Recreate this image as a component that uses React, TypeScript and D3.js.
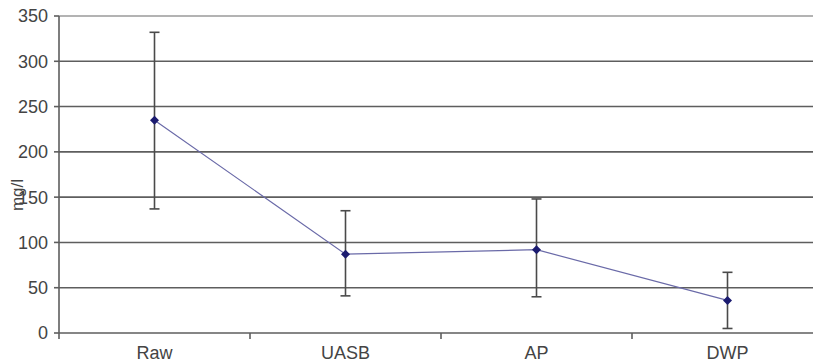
import React from "react";
import * as d3 from "d3";

const categories = ["Raw", "UASB", "AP", "DWP"];
const means = [235, 87, 92, 36];
const upper = [332, 135, 148, 67];
const lower = [137, 41, 40, 5];
const yTicks = [0, 50, 100, 150, 200, 250, 300, 350];
const yLabel = "mg/l";

export default function App() {
  const W = 813, H = 364;
  const left = 59, right = 823, top = 16, bottom = 333;
  const x = d3.scaleBand<string>().domain(categories).range([left, right]).padding(0);
  const y = d3.scaleLinear().domain([0, 350]).range([bottom, top]);
  const cx = (c: string) => (x(c) as number) + x.bandwidth() / 2;
  const line = d3.line<number>().x((_, i) => cx(categories[i])).y((d) => y(d));
  const font = "Arial, 'Liberation Sans', sans-serif";
  const sep = categories.slice(1).map((c) => x(c) as number);

  return (
    <svg width={W} height={H} style={{ position: "absolute", left: 0, top: 0, background: "#fff" }}>
      {yTicks.map((t) => (
        <line key={"g" + t} x1={left} x2={right} y1={y(t)} y2={y(t)}
          stroke={t === 350 ? "#9a9a9a" : "#5e5e5e"} strokeWidth={1.6} />
      ))}
      {/* y axis */}
      <line x1={left} x2={left} y1={top} y2={bottom + 6} stroke="#5e5e5e" strokeWidth={1.6} />
      {yTicks.map((t) => (
        <g key={"t" + t}>
          <line x1={left - 5} x2={left} y1={y(t)} y2={y(t)} stroke="#5e5e5e" strokeWidth={1.6} />
          <text x={48} y={y(t)} dy="0.36em" textAnchor="end" fontFamily={font} fontSize={18} fill="#444">{t}</text>
        </g>
      ))}
      {/* x ticks */}
      {sep.map((s, i) => (
        <line key={"xs" + i} x1={s} x2={s} y1={bottom} y2={bottom + 6} stroke="#5e5e5e" strokeWidth={1.6} />
      ))}
      {categories.map((c) => (
        <text key={"xl" + c} x={cx(c)} y={359} textAnchor="middle" fontFamily={font} fontSize={18} fill="#444">{c}</text>
      ))}
      <text transform={`translate(23,195) rotate(-90)`} textAnchor="middle" fontFamily={font} fontSize={17} fill="#444">{yLabel}</text>
      {/* error bars */}
      {categories.map((c, i) => (
        <g key={"e" + c} stroke="#4a4a4a" strokeWidth={1.6}>
          <line x1={cx(c)} x2={cx(c)} y1={y(upper[i])} y2={y(lower[i])} />
          <line x1={cx(c) - 5} x2={cx(c) + 5} y1={y(upper[i])} y2={y(upper[i])} />
          <line x1={cx(c) - 5} x2={cx(c) + 5} y1={y(lower[i])} y2={y(lower[i])} />
        </g>
      ))}
      <path d={line(means) as string} fill="none" stroke="#6a6aa8" strokeWidth={1.2} />
      {categories.map((c, i) => {
        const px = cx(c), py = y(means[i]);
        return <path key={"m" + c} d={`M${px},${py - 4.5}L${px + 4.5},${py}L${px},${py + 4.5}L${px - 4.5},${py}Z`} fill="#1b1b70" />;
      })}
    </svg>
  );
}
